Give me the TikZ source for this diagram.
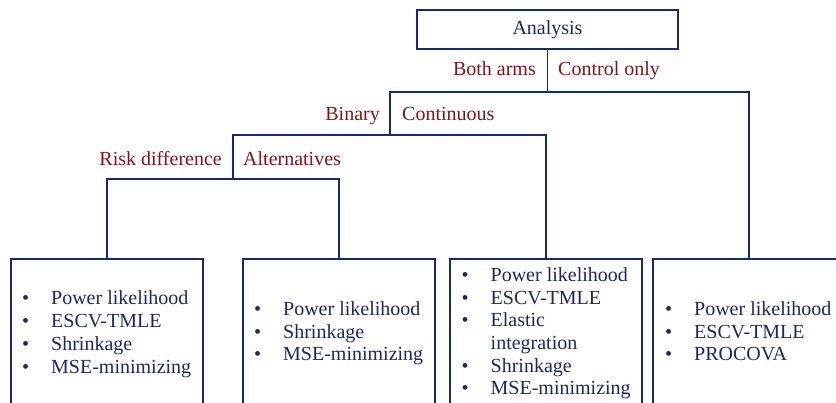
\documentclass[tikz,border=0pt]{standalone}
\usepackage{fontspec}
\setmainfont{Liberation Serif}
\usetikzlibrary{positioning}
\definecolor{navy}{RGB}{22,42,112}
\definecolor{navytext}{RGB}{30,40,95}
\definecolor{darkred}{RGB}{128,22,24}
\tikzset{
	block/.style={draw=navy, line width=1.6pt, inner sep=0pt},
	branch/.style={draw=navy, line width=1.6pt},
	choice/.style={text=darkred, inner sep=0pt},
	methods/.style={text=navytext, inner sep=0pt, anchor=base west}
}
\newcommand{\bul}{\makebox[29pt][l]{\textbullet}}
\newcommand{\methodlist}[1]{\begin{tabular}[t]{@{}l@{}}#1\end{tabular}}

\begin{document}
\begin{tikzpicture}[x=1pt, y=-1pt, font=\fontsize{20}{22.7}\selectfont]
		\useasboundingbox (0,0) rectangle (836,403);
		\clip (0,0) rectangle (836,403);

		% Top question
		\node[block, minimum width=261pt, minimum height=39pt] (analysis) at (547.5,29.5) {};
		\node[text=navytext, anchor=base] at (analysis.center |- 0,35) {Analysis};

		% Branch points
		\coordinate (j1) at (analysis.south |- 0,92);
		\coordinate (j2) at (390,135);
		\coordinate (j3) at (233,179);

		% Method boxes (cut off at the bottom)
		\node[block, minimum width=192pt, minimum height=170pt, anchor=north] (box1) at (107,258) {};
		\node[block, minimum width=192pt, minimum height=170pt, anchor=north] (box2) at (339,258) {};
		\node[block, minimum width=192pt, minimum height=170pt, anchor=north] (box3) at (546,258) {};
		\node[block, minimum width=192pt, minimum height=170pt, anchor=north] (box4) at (749,258) {};

		% Tree lines
		\draw[branch] (analysis.south) -- (j1);
		\draw[branch] (j2) |- (j1) -| (box4.north);
		\draw[branch] (j3) |- (j2) -| (box3.north);
		\draw[branch] (box1.north) |- (j3) -| (box2.north);

		% Choices
		\node[choice, anchor=base east] (both) at (536,76) {Both arms};
		\node[choice, anchor=base west] (control) at (558,76) {Control only};
		\node[choice, anchor=base east] (binary) at (380,121) {Binary};
		\node[choice, anchor=base west] (continuous) at (402,121) {Continuous};
		\node[choice, anchor=base east] (riskdiff) at (222,166) {Risk difference};
		\node[choice, anchor=base west] (alternatives) at (243,166) {Alternatives};

		% Lists
		\node[methods] (list1) at (22,305) {\methodlist{\bul Power likelihood\\ \bul ESCV-TMLE\\ \bul Shrinkage\\ \bul MSE-minimizing}};
		\node[methods] (list2) at (254,315.5) {\methodlist{\bul Power likelihood\\ \bul Shrinkage\\ \bul MSE-minimizing}};
		\node[methods] (list3) at (461.5,281.5) {\methodlist{\bul Power likelihood\\ \bul ESCV-TMLE\\ \bul Elastic\\ \hspace*{29pt}integration\\ \bul Shrinkage\\ \bul MSE-minimizing}};
		\node[methods] (list4) at (665,315.5) {\methodlist{\bul Power likelihood\\ \bul ESCV-TMLE\\ \bul PROCOVA}};
	\end{tikzpicture}
\end{document}
